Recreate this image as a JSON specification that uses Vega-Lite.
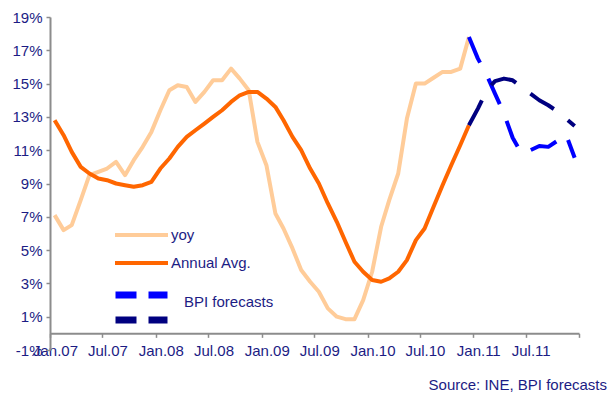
{
  "$schema": "https://vega.github.io/schema/vega-lite/v6.json",
  "width": 529,
  "height": 333,
  "autosize": "none",
  "padding": {"left": 50, "top": 17, "right": 30, "bottom": 44},
  "background": "white",
  "title": {"text": "Source: INE, BPI forecasts", "orient": "bottom", "anchor": "end", "frame": "group", "fontSize": 15, "fontWeight": "normal", "color": "#1c1c84", "dx": 28, "offset": 20},
  "config": {"view": {"stroke": null}, "font": "Liberation Sans"},
  "datasets": {
    "hist": [
      {"date": "2007-01-17", "series": "yoy", "value": 7.1},
      {"date": "2007-02-17", "series": "yoy", "value": 6.2},
      {"date": "2007-03-17", "series": "yoy", "value": 6.5},
      {"date": "2007-04-17", "series": "yoy", "value": 8.0},
      {"date": "2007-05-17", "series": "yoy", "value": 9.5},
      {"date": "2007-06-17", "series": "yoy", "value": 9.7},
      {"date": "2007-07-17", "series": "yoy", "value": 9.9},
      {"date": "2007-08-17", "series": "yoy", "value": 10.3},
      {"date": "2007-09-17", "series": "yoy", "value": 9.5},
      {"date": "2007-10-17", "series": "yoy", "value": 10.4},
      {"date": "2007-11-17", "series": "yoy", "value": 11.2},
      {"date": "2007-12-17", "series": "yoy", "value": 12.1},
      {"date": "2008-01-17", "series": "yoy", "value": 13.4},
      {"date": "2008-02-17", "series": "yoy", "value": 14.6},
      {"date": "2008-03-17", "series": "yoy", "value": 14.9},
      {"date": "2008-04-17", "series": "yoy", "value": 14.8},
      {"date": "2008-05-17", "series": "yoy", "value": 13.9},
      {"date": "2008-06-17", "series": "yoy", "value": 14.5},
      {"date": "2008-07-17", "series": "yoy", "value": 15.2},
      {"date": "2008-08-17", "series": "yoy", "value": 15.2},
      {"date": "2008-09-17", "series": "yoy", "value": 15.9},
      {"date": "2008-10-17", "series": "yoy", "value": 15.3},
      {"date": "2008-11-17", "series": "yoy", "value": 14.6},
      {"date": "2008-12-17", "series": "yoy", "value": 11.5},
      {"date": "2009-01-17", "series": "yoy", "value": 10.1},
      {"date": "2009-02-17", "series": "yoy", "value": 7.2},
      {"date": "2009-03-17", "series": "yoy", "value": 6.3},
      {"date": "2009-04-17", "series": "yoy", "value": 5.1},
      {"date": "2009-05-17", "series": "yoy", "value": 3.8},
      {"date": "2009-06-17", "series": "yoy", "value": 3.1},
      {"date": "2009-07-17", "series": "yoy", "value": 2.5},
      {"date": "2009-08-17", "series": "yoy", "value": 1.5},
      {"date": "2009-09-17", "series": "yoy", "value": 1.0},
      {"date": "2009-10-17", "series": "yoy", "value": 0.85},
      {"date": "2009-11-17", "series": "yoy", "value": 0.85},
      {"date": "2009-12-17", "series": "yoy", "value": 2.0},
      {"date": "2010-01-17", "series": "yoy", "value": 3.7},
      {"date": "2010-02-17", "series": "yoy", "value": 6.4},
      {"date": "2010-03-17", "series": "yoy", "value": 8.0},
      {"date": "2010-04-17", "series": "yoy", "value": 9.6},
      {"date": "2010-05-17", "series": "yoy", "value": 12.9},
      {"date": "2010-06-17", "series": "yoy", "value": 15.0},
      {"date": "2010-07-17", "series": "yoy", "value": 15.0},
      {"date": "2010-08-17", "series": "yoy", "value": 15.35},
      {"date": "2010-09-17", "series": "yoy", "value": 15.7},
      {"date": "2010-10-17", "series": "yoy", "value": 15.7},
      {"date": "2010-11-17", "series": "yoy", "value": 15.9},
      {"date": "2010-12-17", "series": "yoy", "value": 17.8},
      {"date": "2007-01-17", "series": "Annual Avg.", "value": 12.8},
      {"date": "2007-02-17", "series": "Annual Avg.", "value": 11.9},
      {"date": "2007-03-17", "series": "Annual Avg.", "value": 10.9},
      {"date": "2007-04-17", "series": "Annual Avg.", "value": 10.0},
      {"date": "2007-05-17", "series": "Annual Avg.", "value": 9.6},
      {"date": "2007-06-17", "series": "Annual Avg.", "value": 9.3},
      {"date": "2007-07-17", "series": "Annual Avg.", "value": 9.2},
      {"date": "2007-08-17", "series": "Annual Avg.", "value": 9.0},
      {"date": "2007-09-17", "series": "Annual Avg.", "value": 8.9},
      {"date": "2007-10-17", "series": "Annual Avg.", "value": 8.8},
      {"date": "2007-11-17", "series": "Annual Avg.", "value": 8.9},
      {"date": "2007-12-17", "series": "Annual Avg.", "value": 9.1},
      {"date": "2008-01-17", "series": "Annual Avg.", "value": 9.9},
      {"date": "2008-02-17", "series": "Annual Avg.", "value": 10.5},
      {"date": "2008-03-17", "series": "Annual Avg.", "value": 11.2},
      {"date": "2008-04-17", "series": "Annual Avg.", "value": 11.8},
      {"date": "2008-05-17", "series": "Annual Avg.", "value": 12.2},
      {"date": "2008-06-17", "series": "Annual Avg.", "value": 12.6},
      {"date": "2008-07-17", "series": "Annual Avg.", "value": 13.0},
      {"date": "2008-08-17", "series": "Annual Avg.", "value": 13.4},
      {"date": "2008-09-17", "series": "Annual Avg.", "value": 13.9},
      {"date": "2008-10-17", "series": "Annual Avg.", "value": 14.3},
      {"date": "2008-11-17", "series": "Annual Avg.", "value": 14.5},
      {"date": "2008-12-17", "series": "Annual Avg.", "value": 14.5},
      {"date": "2009-01-17", "series": "Annual Avg.", "value": 14.1},
      {"date": "2009-02-17", "series": "Annual Avg.", "value": 13.6},
      {"date": "2009-03-17", "series": "Annual Avg.", "value": 12.8},
      {"date": "2009-04-17", "series": "Annual Avg.", "value": 11.8},
      {"date": "2009-05-17", "series": "Annual Avg.", "value": 11.0},
      {"date": "2009-06-17", "series": "Annual Avg.", "value": 9.9},
      {"date": "2009-07-17", "series": "Annual Avg.", "value": 9.0},
      {"date": "2009-08-17", "series": "Annual Avg.", "value": 7.8},
      {"date": "2009-09-17", "series": "Annual Avg.", "value": 6.7},
      {"date": "2009-10-17", "series": "Annual Avg.", "value": 5.5},
      {"date": "2009-11-17", "series": "Annual Avg.", "value": 4.3},
      {"date": "2009-12-17", "series": "Annual Avg.", "value": 3.7},
      {"date": "2010-01-17", "series": "Annual Avg.", "value": 3.2},
      {"date": "2010-02-17", "series": "Annual Avg.", "value": 3.1},
      {"date": "2010-03-17", "series": "Annual Avg.", "value": 3.3},
      {"date": "2010-04-17", "series": "Annual Avg.", "value": 3.7},
      {"date": "2010-05-17", "series": "Annual Avg.", "value": 4.4},
      {"date": "2010-06-17", "series": "Annual Avg.", "value": 5.6},
      {"date": "2010-07-17", "series": "Annual Avg.", "value": 6.3},
      {"date": "2010-08-17", "series": "Annual Avg.", "value": 7.6},
      {"date": "2010-09-17", "series": "Annual Avg.", "value": 8.9},
      {"date": "2010-10-17", "series": "Annual Avg.", "value": 10.1},
      {"date": "2010-11-17", "series": "Annual Avg.", "value": 11.3},
      {"date": "2010-12-17", "series": "Annual Avg.", "value": 12.5}
    ],
    "fc": [
      {"date": "2010-12-17", "series": "fc_yoy", "value": 17.8},
      {"date": "2011-01-17", "series": "fc_yoy", "value": 16.5},
      {"date": "2011-02-17", "series": "fc_yoy", "value": 15.5},
      {"date": "2011-03-17", "series": "fc_yoy", "value": 14.4},
      {"date": "2011-04-17", "series": "fc_yoy", "value": 13.2},
      {"date": "2011-05-17", "series": "fc_yoy", "value": 11.75},
      {"date": "2011-06-17", "series": "fc_yoy", "value": 10.8},
      {"date": "2011-07-17", "series": "fc_yoy", "value": 11.0},
      {"date": "2011-08-17", "series": "fc_yoy", "value": 11.25},
      {"date": "2011-09-17", "series": "fc_yoy", "value": 11.2},
      {"date": "2011-10-17", "series": "fc_yoy", "value": 11.55},
      {"date": "2011-11-17", "series": "fc_yoy", "value": 11.95},
      {"date": "2011-12-17", "series": "fc_yoy", "value": 10.55},
      {"date": "2010-12-17", "series": "fc_avg", "value": 12.5},
      {"date": "2011-01-17", "series": "fc_avg", "value": 13.5},
      {"date": "2011-02-17", "series": "fc_avg", "value": 14.6},
      {"date": "2011-03-17", "series": "fc_avg", "value": 15.15},
      {"date": "2011-04-17", "series": "fc_avg", "value": 15.3},
      {"date": "2011-05-17", "series": "fc_avg", "value": 15.2},
      {"date": "2011-06-17", "series": "fc_avg", "value": 14.8},
      {"date": "2011-07-17", "series": "fc_avg", "value": 14.4},
      {"date": "2011-08-17", "series": "fc_avg", "value": 14.0},
      {"date": "2011-09-17", "series": "fc_avg", "value": 13.7},
      {"date": "2011-10-17", "series": "fc_avg", "value": 13.35},
      {"date": "2011-11-17", "series": "fc_avg", "value": 12.9},
      {"date": "2011-12-17", "series": "fc_avg", "value": 12.45}
    ]
  },
  "encoding": {
    "x": {
      "field": "date",
      "type": "temporal",
      "scale": {"domain": [{"year": 2007, "month": 1, "date": 1}, {"year": 2012, "month": 1, "date": 1}]},
      "axis": {
        "title": null,
        "grid": false,
        "values": [
          {"year": 2007, "month": 1, "date": 1}, {"year": 2007, "month": 7, "date": 1},
          {"year": 2008, "month": 1, "date": 1}, {"year": 2008, "month": 7, "date": 1},
          {"year": 2009, "month": 1, "date": 1}, {"year": 2009, "month": 7, "date": 1},
          {"year": 2010, "month": 1, "date": 1}, {"year": 2010, "month": 7, "date": 1},
          {"year": 2011, "month": 1, "date": 1}, {"year": 2011, "month": 7, "date": 1},
          {"year": 2012, "month": 1, "date": 1}
        ],
        "format": "%b.%y",
        "labelExpr": "year(datum.value) >= 2012 ? '' : datum.label",
        "offset": -16.65,
        "domainColor": "#8c8c8c",
        "domainWidth": 2,
        "tickColor": "#8c8c8c",
        "tickWidth": 1.5,
        "tickSize": 4,
        "labelPadding": 6,
        "labelOffset": 5,
        "labelFontSize": 15,
        "labelColor": "#1c1c84",
        "labelFlush": false,
        "labelOverlap": false
      }
    },
    "y": {
      "field": "value",
      "type": "quantitative",
      "scale": {"domain": [-1, 19], "nice": false, "zero": false},
      "axis": {
        "title": null,
        "grid": false,
        "values": [-1, 1, 3, 5, 7, 9, 11, 13, 15, 17, 19],
        "labelExpr": "datum.value + '%'",
        "domainColor": "#8c8c8c",
        "domainWidth": 2,
        "tickColor": "#8c8c8c",
        "tickWidth": 1.5,
        "tickSize": 4,
        "labelPadding": 4,
        "labelFontSize": 15,
        "labelColor": "#1c1c84",
        "labelFlush": false,
        "labelOverlap": false
      }
    }
  },
  "layer": [
    {
      "data": {"name": "hist"},
      "mark": {"type": "line", "strokeWidth": 4, "strokeJoin": "round"},
      "encoding": {
        "color": {
          "field": "series",
          "type": "nominal",
          "scale": {"domain": ["yoy", "Annual Avg."], "range": ["#FFCC99", "#FF6600"]},
          "legend": {
            "orient": "none",
            "legendX": 63,
            "legendY": 208,
            "title": null,
            "padding": 0,
            "symbolType": "stroke",
            "symbolSize": 2809,
            "symbolStrokeWidth": 4,
            "clipHeight": 20,
            "rowPadding": 8,
            "labelOffset": 1,
            "labelFontSize": 15,
            "labelColor": "#1c1c84"
          }
        }
      }
    },
    {
      "data": {"name": "fc"},
      "mark": {"type": "line", "strokeWidth": 4, "strokeDash": [28, 18], "strokeJoin": "round"},
      "encoding": {
        "stroke": {
          "field": "series",
          "type": "nominal",
          "scale": {"domain": ["fc_yoy", "fc_avg"], "range": ["#0000FF", "#000080"]},
          "legend": {
            "orient": "none",
            "legendX": 62,
            "legendY": 270,
            "title": null,
            "padding": 0,
            "symbolType": "stroke",
            "symbolSize": 2704,
            "symbolStrokeWidth": 7,
            "symbolDash": [21, 12],
            "clipHeight": 16,
            "rowPadding": 2,
            "labelExpr": "datum.value == 'fc_yoy' ? 'BPI forecasts' : ''",
            "labelBaseline": "top",
            "labelOffset": 13,
            "labelFontSize": 15,
            "labelColor": "#1c1c84"
          }
        }
      }
    }
  ]
}
